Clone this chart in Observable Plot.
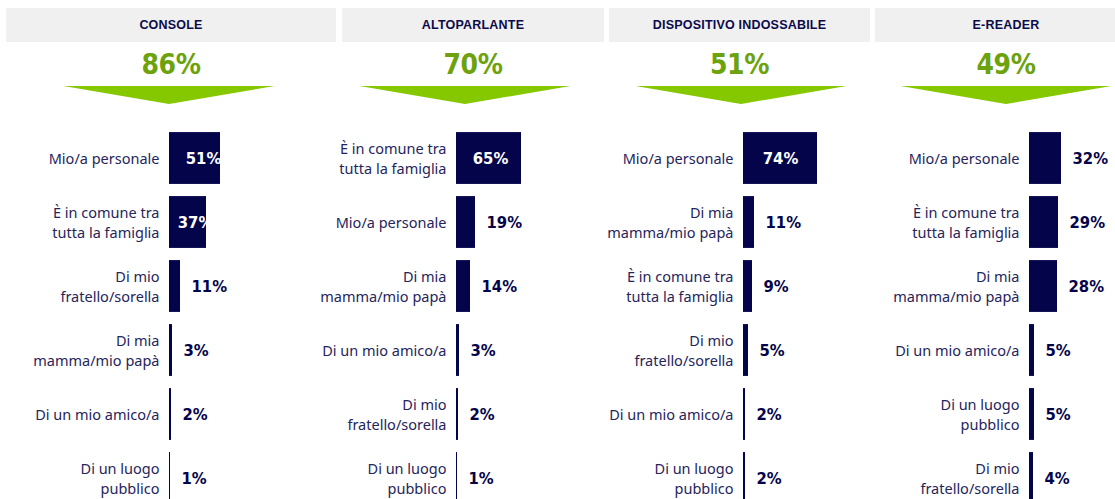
<!DOCTYPE html>
<html><head><meta charset="utf-8">
<script src="https://cdn.jsdelivr.net/npm/d3@7"></script>
<script src="https://cdn.jsdelivr.net/npm/@observablehq/plot@0.6"></script>
<style>
html,body{margin:0;padding:0;}
body{width:1115px;height:499px;overflow:hidden;position:relative;background:#fff;}
.hdr{position:absolute;top:8px;height:34px;background:#f0f0f0;display:flex;align-items:center;justify-content:center;
  font-family:"Liberation Sans",Arial,sans-serif;font-weight:bold;font-size:12.5px;letter-spacing:0.2px;color:#0b0b4a;}
.big{position:absolute;top:45px;height:40px;width:200px;text-align:center;line-height:40px;
  font-family:"DejaVu Sans Condensed",sans-serif;font-weight:bold;font-size:28px;letter-spacing:-0.5px;color:#6ca20c;}
.tri{position:absolute;top:86px;width:211px;height:18px;background:#86c800;clip-path:polygon(0 0,100% 0,50% 100%);}
.panel{position:absolute;top:120px;}
</style></head><body>
<div id="root"></div>
<script>
// ---- data ----
const devices = ["CONSOLE", "ALTOPARLANTE", "DISPOSITIVO INDOSSABILE", "E-READER"];
const ownership = [86, 70, 51, 49];

const consoleCategories = ["Mio/a personale", "È in comune tra\ntutta la famiglia", "Di mio\nfratello/sorella", "Di mia\nmamma/mio papà", "Di un mio amico/a", "Di un luogo\npubblico"];
const consoleValues = [51, 37, 11, 3, 2, 1];

const speakerCategories = ["È in comune tra\ntutta la famiglia", "Mio/a personale", "Di mia\nmamma/mio papà", "Di un mio amico/a", "Di mio\nfratello/sorella", "Di un luogo\npubblico"];
const speakerValues = [65, 19, 14, 3, 2, 1];

const wearableCategories = ["Mio/a personale", "Di mia\nmamma/mio papà", "È in comune tra\ntutta la famiglia", "Di mio\nfratello/sorella", "Di un mio amico/a", "Di un luogo\npubblico"];
const wearableValues = [74, 11, 9, 5, 2, 2];

const ereaderCategories = ["Mio/a personale", "È in comune tra\ntutta la famiglia", "Di mia\nmamma/mio papà", "Di un mio amico/a", "Di un luogo\npubblico", "Di mio\nfratello/sorella"];
const ereaderValues = [32, 29, 28, 5, 5, 4];

const panelCategories = [consoleCategories, speakerCategories, wearableCategories, ereaderCategories];
const panelValues = [consoleValues, speakerValues, wearableValues, ereaderValues];

// ---- layout ----
const headerBoxes = [[6, 336], [342, 604], [609, 870], [875, 1137]];
const triangleCenters = [169, 465, 741, 1006];
const barOrigins = [169, 456, 743, 1029];
const ML = 169;
const navy = "#04044a";
const labelColor = "#25255c";
const valueFont = "'DejaVu Sans Condensed', sans-serif";

const root = document.getElementById("root");
devices.forEach((name, i) => {
  const [x0, x1] = headerBoxes[i];
  const c = (x0 + x1) / 2;
  const h = document.createElement("div");
  h.className = "hdr"; h.style.left = x0 + "px"; h.style.width = (x1 - x0) + "px";
  h.textContent = name; root.appendChild(h);
  const b = document.createElement("div");
  b.className = "big"; b.style.left = (c - 100) + "px";
  b.textContent = ownership[i] + "%"; root.appendChild(b);
  const t = document.createElement("div");
  t.className = "tri"; t.style.left = (triangleCenters[i] - 105.5) + "px"; root.appendChild(t);

  const rows = panelCategories[i].map((category, j) => ({category, value: panelValues[i][j]}));
  const left = barOrigins[i] - ML;
  const W = Math.min(287, 1115 - left);
  const inside = d => d.value >= 35;
  const chart = Plot.plot({
    width: W, height: 390,
    marginLeft: ML, marginRight: 0, marginTop: 6, marginBottom: 0,
    x: {domain: [0, W - ML], axis: null},
    y: {domain: panelCategories[i], axis: null, paddingInner: 0.19, paddingOuter: 0.095, round: false},
    style: {background: "transparent", overflow: "visible"},
    marks: [
      Plot.barX(rows, {x: "value", y: "category", fill: navy}),
      Plot.text(rows, {frameAnchor: "left", y: "category", text: "category", textAnchor: "end", dx: -10, dy: -1,
        lineHeight: 1.35, fontSize: 14.5, fill: labelColor, fontFamily: "'Noto Sans', sans-serif"}),
      Plot.text(rows.filter(inside), {x: d => Math.min(d.value - 11, Math.max(34, d.value / 2)), y: "category",
        text: d => d.value + "%", textAnchor: "middle", fill: "white", fontSize: 16.5, fontWeight: "bold",
        letterSpacing: "-0.5px", fontFamily: valueFont}),
      Plot.text(rows.filter(d => !inside(d)), {x: "value", y: "category", dx: 11,
        text: d => d.value + "%", textAnchor: "start", fill: navy, fontSize: 16.5, fontWeight: "bold",
        letterSpacing: "-0.5px", fontFamily: valueFont})
    ]
  });
  const p = document.createElement("div");
  p.className = "panel"; p.style.left = left + "px";
  p.appendChild(chart); root.appendChild(p);
});
</script>
</body></html>
